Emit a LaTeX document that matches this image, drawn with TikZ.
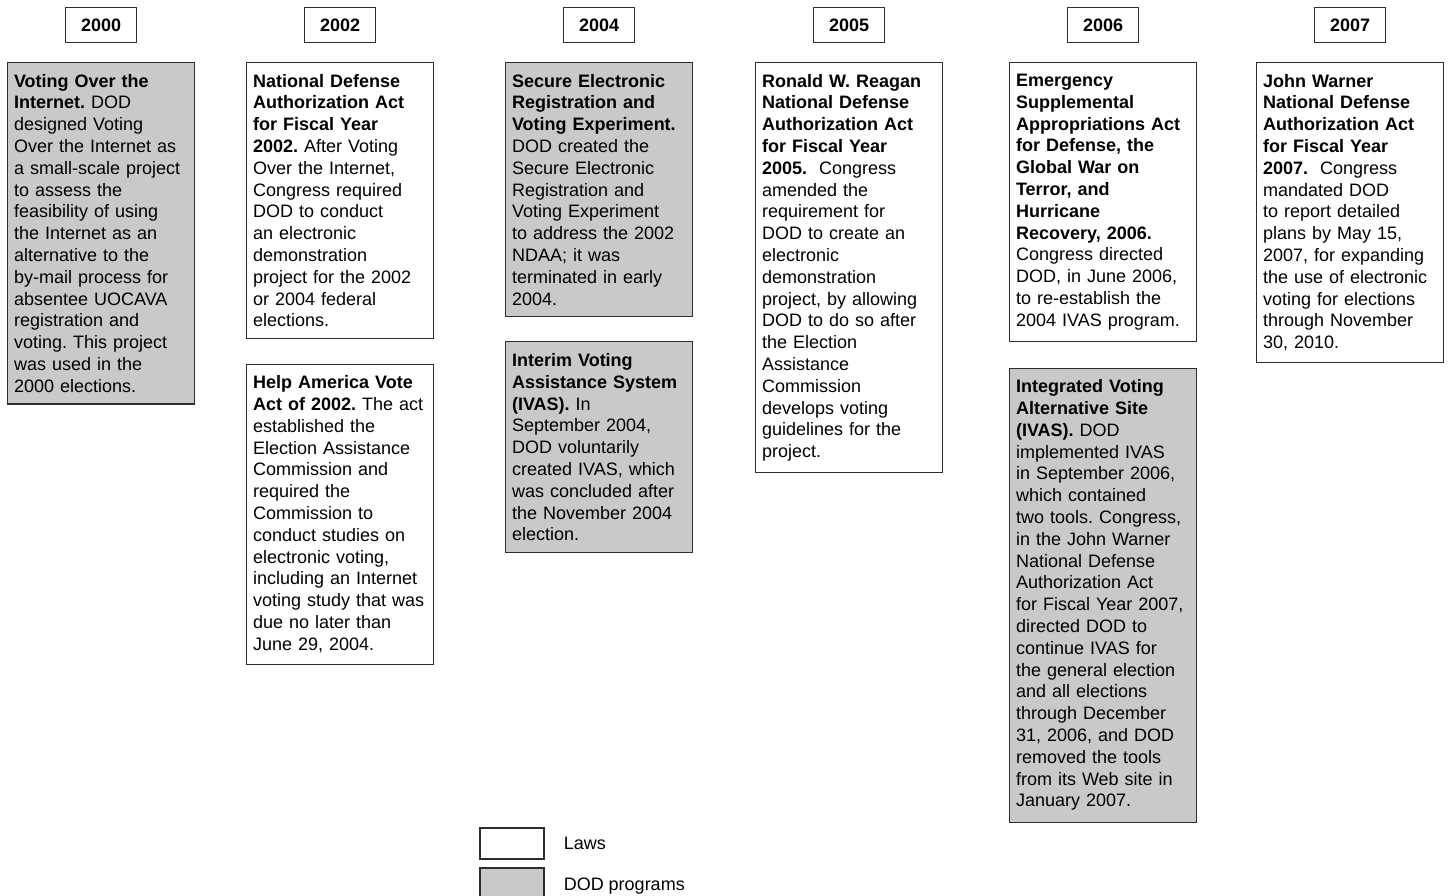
\documentclass[tikz,border=0pt]{standalone}
\usepackage{fontspec}
\setmainfont{Liberation Sans}
\usetikzlibrary{positioning}

\definecolor{dodgray}{RGB}{200,201,203}
\definecolor{edgegray}{RGB}{45,45,45}

\tikzset{
  entry/.style={draw=edgegray, line width=1.1pt, anchor=north west, align=left,
    text width=174pt, inner xsep=6.5pt, inner ysep=11.5pt,
    font=\fontsize{18}{21.8}\selectfont\frenchspacing},
  law/.style={entry, fill=white},
  dodprog/.style={entry, fill=dodgray},
  yearbox/.style={draw=edgegray, line width=1.1pt, minimum width=71pt, minimum height=35pt,
    inner sep=0pt, font=\fontsize{18}{21.8}\selectfont\bfseries},
  keybox/.style={draw=edgegray, line width=1.1pt, minimum width=64pt, minimum height=31pt, inner sep=0pt},
  keytext/.style={inner sep=0pt, font=\fontsize{18}{21.8}\selectfont}
}

\begin{document}
\begin{tikzpicture}[x=1pt, y=-1pt]

    \useasboundingbox (0,0) rectangle (1449,896);

    % Top row of entries
    \node[dodprog] (c2000) at (7,62) {\textbf{Voting Over the\\Internet.} DOD\\designed Voting\\Over the Internet as\\a small-scale project\\to assess the\\feasibility of using\\the Internet as an\\alternative to the\\by-mail process for\\absentee UOCAVA\\registration and\\voting. This project\\was used in the\\2000 elections.};
    \node[law] (c2002) at (246,62) {\textbf{National Defense\\Authorization Act\\for Fiscal Year\\2002.} After Voting\\Over the Internet,\\Congress required\\DOD to conduct\\an electronic\\demonstration\\project for the 2002\\or 2004 federal\\elections.};
    \node[dodprog] (c2004) at (505,62) {\textbf{Secure Electronic\\Registration and\\Voting Experiment.}\\DOD created the\\Secure Electronic\\Registration and\\Voting Experiment\\to address the 2002\\NDAA; it was\\terminated in early\\2004.};
    \node[law] (c2005) at (755,62) {\textbf{Ronald W. Reagan\\National Defense\\Authorization Act\\for Fiscal Year\\2005.}\ \ Congress\\amended the\\requirement for\\DOD to create an\\electronic\\demonstration\\project, by allowing\\DOD to do so after\\the Election\\Assistance\\Commission\\develops voting\\guidelines for the\\project.};
    \node[law] (c2006) at (1009,62) {\textbf{Emergency\\Supplemental\\Appropriations Act\\for Defense, the\\Global War on\\Terror, and\\Hurricane\\Recovery, 2006.}\\Congress directed\\DOD, in June 2006,\\to re-establish the\\2004 IVAS program.};
    \node[law] (c2007) at (1256,62) {\textbf{John Warner\\National Defense\\Authorization Act\\for Fiscal Year\\2007.}\ \ Congress\\mandated DOD\\to report detailed\\plans by May 15,\\2007, for expanding\\the use of electronic\\voting for elections\\through November\\30, 2010.};

    % Second row of entries
    \node[law, anchor=north, below=24.5pt of c2002] (h2002) {\textbf{Help America Vote\\Act of 2002.} The act\\established the\\Election Assistance\\Commission and\\required the\\Commission to\\conduct studies on\\electronic voting,\\including an Internet\\voting study that was\\due no later than\\June 29, 2004.};
    \node[dodprog, anchor=north, below=24pt of c2004] (i2004) {\textbf{Interim Voting\\Assistance System\\(IVAS).} In\\September 2004,\\DOD voluntarily\\created IVAS, which\\was concluded after\\the November 2004\\election.};
    \node[dodprog, anchor=north, below=25.5pt of c2006] (i2006) {\textbf{Integrated Voting\\Alternative Site\\(IVAS).} DOD\\implemented IVAS\\in September 2006,\\which contained\\two tools. Congress,\\in the John Warner\\National Defense\\Authorization Act\\for Fiscal Year 2007,\\directed DOD to\\continue IVAS for\\the general election\\and all elections\\through December\\31, 2006, and DOD\\removed the tools\\from its Web site in\\January 2007.};

    % Year labels
    \foreach \yr in {2000,2002,2004,2005,2006,2007}
      \node[yearbox, above=19pt of c\yr] (y\yr) {\yr};

    % Legend
    \node[keybox, fill=white] (lawkey) at (512,843.5) {};
    \node[keybox, fill=dodgray] (dodkey) at (512,883.5) {};
    \node[keytext, right=19pt of lawkey] (lawtext) {Laws};
    \node[keytext, right=19pt of dodkey, yshift=-2.5pt] (dodtext) {DOD programs};

\end{tikzpicture}
\end{document}
